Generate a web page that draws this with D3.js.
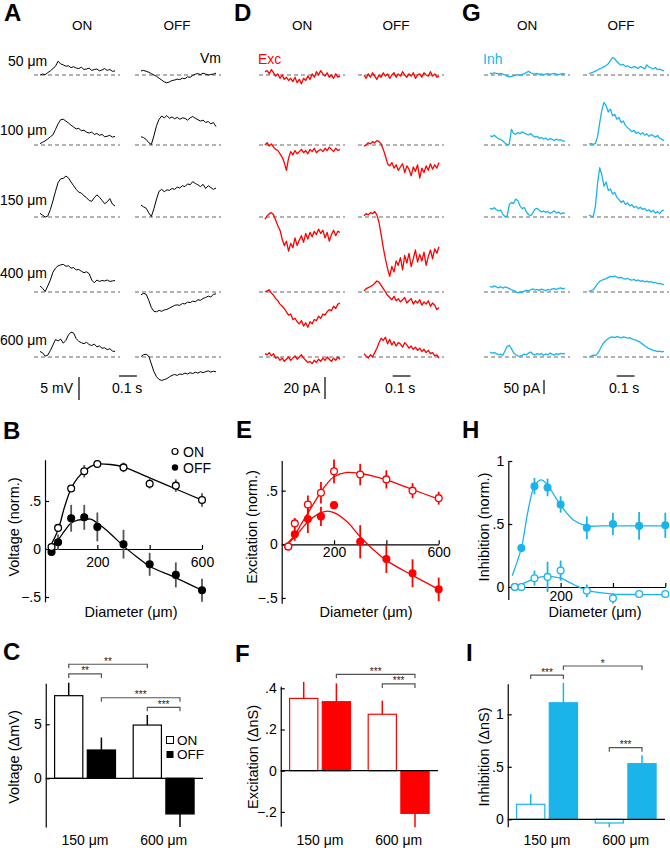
<!DOCTYPE html>
<html><head><meta charset="utf-8">
<script src="https://cdn.jsdelivr.net/npm/d3@7"></script>
<style>body{margin:0;background:#fff}svg{display:block}text{font-family:Arial,"Liberation Sans",sans-serif}</style>
</head><body><svg id="fig" width="670" height="848"></svg>
<script>
// ---------------- DATA ----------------
const rowLabels = ["50 μm","100 μm","150 μm","400 μm","600 μm"];
const conditions = ["ON","OFF"];
const traceDur = 0.42; // s per trace
// Vm traces (mV)
const vmOn = [
 [0,0.2,0.1,0.5,0.9,1.4,1.9,3.0,2.4,2.2,1.9,2.0,1.6,1.8,1.5,1.4,1.7,1.2,1.3,1.5,1.0,1.2,1.3,0.9,1.1,1.4,1.0,1.2,0.8,0.9],
 [0.3,0.6,0.9,1.3,1.8,2.2,3.4,4.6,5.5,5.6,5.2,4.8,4.3,3.9,3.5,3.6,3.1,3.2,2.8,2.6,2.8,2.3,2.5,2.1,2.3,1.8,1.9,2.1,1.7,1.9],
 [0.8,0.4,0.0,0.2,1.6,3.5,5.6,7.5,8.3,8.4,8.9,8.5,7.6,6.8,6.0,5.4,5.2,4.6,4.2,3.6,3.4,4.2,4.8,4.3,3.6,2.9,3.3,4.0,2.8,2.4],
 [1.3,0.8,0.1,1.3,2.6,4.3,5.2,5.7,5.9,6.0,5.6,5.7,5.2,5.3,4.8,4.9,4.5,4.2,4.4,4.0,2.6,2.0,2.6,2.3,2.5,2.4,2.6,2.3,2.4,2.5],
 [1.2,0.9,0.2,0.4,1.4,2.6,3.8,3.5,3.9,3.0,3.6,4.8,5.4,5.2,4.0,3.4,3.1,2.9,3.2,2.7,2.5,2.8,2.2,2.4,1.9,2.0,1.6,1.8,1.3,1.2]
];
const vmOff = [
 [0.9,1.0,0.8,0.6,0.3,0.0,-0.3,-0.7,-1.1,-1.5,-1.7,-1.5,-1.2,-1.1,-0.9,-1.0,-0.7,-0.8,-0.4,-0.5,-0.1,0.2,0.3,0.1,0.4,0.2,0.0,0.1,0.2,0.4],
 [1.8,1.6,1.2,0.5,0.1,2.0,4.2,5.6,6.3,5.9,6.4,5.8,6.1,5.7,6.0,5.6,5.9,5.8,5.4,5.9,6.2,5.8,5.5,5.2,5.4,4.9,5.1,4.6,4.9,4.0],
 [2.6,2.2,1.9,0.9,0.1,1.8,3.9,5.6,6.0,5.5,5.9,5.8,6.2,6.0,6.5,6.3,6.8,6.6,7.2,7.0,7.7,7.3,7.0,6.6,7.1,6.2,6.8,6.4,6.0,6.3],
 [-0.6,-0.3,-0.5,-1.8,-3.4,-4.2,-4.3,-4.0,-4.2,-3.9,-3.8,-3.5,-3.2,-2.9,-2.8,-2.9,-2.5,-2.6,-2.2,-2.3,-2.0,-2.1,-1.7,-1.8,-1.4,-1.2,-0.9,-1.1,-0.5,-0.4],
 [0.1,0.5,0.6,0.2,-1.5,-3.2,-4.3,-4.9,-5.1,-4.9,-4.7,-4.3,-4.0,-3.8,-4.0,-3.7,-3.8,-3.5,-3.7,-3.4,-3.6,-3.3,-3.5,-3.2,-3.4,-3.2,-3.0,-3.3,-3.1,-3.2]
];
// Excitatory currents (pA)
const excOn = [
 [3,4,1,5,2,-1,1,-3,0,-4,-2,-5,-3,-6,-2,-7,-4,-8,-3,-5,-1,-4,1,-2,3,0,4,1,-1,2,-2,0,-3,1,-2,-1],
 [0,2,-1,1,-2,-4,-5,-8,-11,-16,-23,-12,-6,-9,-5,-8,-6,-4,-7,-5,-8,-4,-6,-3,-7,-5,-4,-6,-3,-5,-2,-4,-6,-3,-5,-4],
 [-2,1,3,4,2,-3,-8,-12,-20,-26,-22,-31,-24,-28,-19,-26,-21,-17,-23,-15,-20,-14,-18,-13,-16,-11,-15,-12,-19,-14,-22,-16,-12,-17,-13,-14],
 [0,1,2,-1,-3,-6,-8,-11,-13,-15,-18,-21,-20,-25,-24,-27,-29,-26,-31,-28,-32,-27,-29,-25,-26,-22,-24,-20,-21,-18,-16,-17,-13,-15,-11,-10],
 [3,2,4,1,3,-1,0,-3,-1,-4,-2,0,-3,-1,1,-2,0,2,-1,-3,-5,-4,-6,-3,-5,-2,-4,-1,-3,0,-2,-4,-1,-3,0,-2]
];
const excOff = [
 [0,-3,1,-2,2,-1,-4,0,-2,2,-1,1,-3,0,2,-2,1,-1,3,0,-2,1,-1,2,-3,0,1,-2,2,0,-1,3,-1,1,-2,-1],
 [-1,0,2,1,3,2,4,3,1,-4,-10,-17,-19,-16,-21,-18,-23,-20,-17,-25,-19,-22,-28,-20,-24,-18,-30,-21,-25,-19,-23,-17,-22,-18,-21,-16],
 [1,3,2,4,3,5,2,-5,-16,-28,-38,-47,-54,-45,-50,-40,-44,-37,-48,-35,-42,-33,-45,-38,-30,-41,-34,-40,-32,-44,-36,-30,-38,-29,-33,-27],
 [1,3,4,5,6,8,10,9,6,3,0,-3,-5,-7,-4,-8,-6,-9,-7,-5,-10,-8,-6,-11,-8,-10,-7,-12,-9,-11,-8,-13,-10,-12,-16,-14],
 [3,1,-1,2,0,4,8,13,17,15,18,12,16,11,14,10,13,12,9,13,11,8,10,7,9,6,8,5,7,4,6,3,4,1,2,-1]
];
// Inhibitory currents (pA)
const inhOn = [
 [7,5,8,6,4,6,3,0,-4,-7,-5,-3,-1,1,-2,2,4,9,13,8,5,3,6,2,4,1,3,5,2,4,6,3,1,4,5,3],
 [33,30,35,28,22,20,14,7,1,3,56,42,38,45,40,47,43,39,36,41,33,28,31,24,27,22,25,18,23,20,16,21,17,19,14,15],
 [31,28,33,26,22,25,10,1,3,45,52,48,64,58,40,30,34,18,8,5,15,28,31,24,18,22,16,20,13,17,22,14,18,11,15,13],
 [20,17,22,18,15,19,14,18,16,12,8,5,2,-3,0,-2,3,6,4,8,11,7,9,6,10,8,5,9,7,11,12,9,13,15,11,14],
 [18,14,16,12,8,10,6,22,38,42,30,15,8,4,3,6,10,8,14,18,10,7,12,9,13,6,11,8,14,10,7,12,9,13,11,12]
];
const inhOff = [
 [5,8,10,14,18,22,25,30,34,40,52,62,58,48,40,35,38,30,33,28,25,31,27,24,30,26,22,36,28,25,22,27,19,21,17,15],
 [3,5,2,6,30,80,125,152,140,118,128,104,110,92,98,80,86,70,62,55,48,52,42,46,38,44,35,40,31,37,33,28,34,24,20,15],
 [7,3,1,40,120,176,150,110,125,95,100,82,88,70,62,52,58,45,50,40,44,34,38,30,35,27,31,22,26,18,24,14,20,12,22,25],
 [2,5,8,18,30,38,42,45,48,52,56,54,57,53,50,52,48,46,49,44,42,45,40,43,38,41,36,39,35,37,33,34,30,31,28,26],
 [0,3,7,5,12,25,40,52,60,66,70,72,69,73,71,68,72,70,67,69,65,62,60,56,52,46,40,35,30,27,24,22,19,21,18,20]
];
// Area-summation data (diameter in μm)
const diameters = [25,50,100,150,200,300,400,500,600];
const fitDiam = [15,50,75,100,125,150,175,200,250,300,350,400,500,600];
const vOn = [0.02,0.22,0.63,0.81,0.885,0.85,0.68,0.66,0.51];
const vOnErr = [0.01,0.02,0.02,0.065,0.02,0.05,0.05,0.065,0.07];
const vOff = [-0.03,0.07,0.32,0.33,0.23,0.05,-0.16,-0.27,-0.43];
const vOffErr = [0.02,0.08,0.14,0.13,0.15,0.15,0.12,0.13,0.12];
const vOnFit = [0,0.2,0.44,0.63,0.74,0.81,0.86,0.885,0.88,0.855,0.8,0.74,0.625,0.51];
const vOffFit = [0,0.094,0.19,0.27,0.3,0.31,0.31,0.27,0.16,0.03,-0.08,-0.18,-0.3,-0.43];
const eOn = [-0.02,0.195,0.37,0.48,0.68,0.65,0.605,0.50,0.43];
const eOnErr = [0.01,0.05,0.085,0.1,0.11,0.1,0.085,0.07,0.06];
const eOff = [-0.02,0.093,0.235,0.26,0.365,0.024,-0.137,-0.27,-0.42];
const eOffErr = [0.01,0.06,0.13,0.09,0.01,0.155,0.13,0.13,0.11];
const eOnFit = [-0.01,0.087,0.19,0.29,0.39,0.49,0.57,0.63,0.67,0.66,0.635,0.6,0.51,0.42];
const eOffFit = [-0.02,0.07,0.14,0.21,0.26,0.295,0.31,0.295,0.21,0.07,-0.05,-0.15,-0.29,-0.42];
const hOn = [0.0,0.0,0.07,0.08,0.13,-0.03,-0.09,-0.055,-0.055];
const hOnErr = [0.01,0.01,0.06,0.12,0.08,0.05,0.04,0.02,0.02];
const hOff = [0.0,0.31,0.80,0.79,0.655,0.47,0.50,0.485,0.49];
const hOffErr = [0.01,0.03,0.065,0.07,0.065,0.09,0.09,0.11,0.1];
const hOnFit = [0,0.02,0.045,0.065,0.08,0.085,0.08,0.07,0.02,-0.025,-0.045,-0.056,-0.06,-0.06];
const hOffFit = [0.09,0.31,0.6,0.8,0.85,0.81,0.73,0.65,0.53,0.485,0.485,0.485,0.485,0.485];
// Bar summaries
const groups = ["150 μm","600 μm"];
const cOn = [7.65,4.93], cOnErr = [1.2,0.93], cOff = [2.62,-3.3], cOffErr = [1.15,1.2];
const fOn = [0.351,0.274], fOnErr = [0.08,0.066], fOff = [0.335,-0.207], fOffErr = [0.089,0.068];
const iOn = [0.143,-0.035], iOnErr = [0.097,0.04], iOff = [1.11,0.53], iOffErr = [0.19,0.08];
// significance: [group1, cond1, group2, cond2, level (data units), label]
const cSig = [["150 μm","ON","600 μm","ON",10.56,"**"],["150 μm","ON","150 μm","OFF",9.66,"**"],["150 μm","OFF","600 μm","OFF",7.46,"***"],["600 μm","ON","600 μm","OFF",6.57,"***"]];
const fSig = [["150 μm","OFF","600 μm","OFF",0.468,"***"],["600 μm","ON","600 μm","OFF",0.421,"***"]];
const iSig = [["150 μm","ON","150 μm","OFF",1.374,"***"],["150 μm","OFF","600 μm","OFF",1.46,"*"],["600 μm","ON","600 μm","OFF",0.682,"***"]];

// ---------------- DRAWING ----------------
const RED = "#ff0000", CYAN = "#1ab4ea";
const svg = d3.select("#fig");

function txt(x,y,s,o={}){
  const t = svg.append("text").attr("x",x).attr("y",y).text(s)
    .attr("font-size",o.size||13.5).attr("fill",o.fill||"#000")
    .attr("text-anchor",o.anchor||"start");
  if(o.weight) t.attr("font-weight",o.weight);
  return t;
}
function vtxt(cx,cy,s,size){
  svg.append("text").attr("transform",`translate(${cx},${cy}) rotate(-90)`)
    .attr("text-anchor","middle").attr("dy","0.35em").attr("font-size",size||13.5).text(s);
}
function tickFmt(v){
  if(v===0) return "0";
  if(Number.isInteger(v)) return String(v);
  return d3.format(".1f")(v).replace("0.",".");
}

// Panel letters
[["A",4,21],["D",234,21],["G",462,21],["B",3,439],["E",236,438],["H",462,438],["C",3,660],["F",235,662],["I",466,661]]
  .forEach(([s,x,y])=>txt(x,y,s,{size:24,weight:"bold"}));

// Column headings
[[82,"ON"],[177,"OFF"],[302,"ON"],[396,"OFF"],[527,"ON"],[621,"OFF"]].forEach(([x,s])=>txt(x,30,s,{anchor:"middle",size:13.5}));

// Traces
const rowBase = [75,145,217,292,357];
const traceCols = [
  {data:vmOn, x0:40, ppu:4.6, color:"#000", w:1},
  {data:vmOff, x0:141, ppu:4.6, color:"#000", w:1},
  {data:excOn, x0:265, ppu:1.1, color:RED, w:1.3},
  {data:excOff, x0:364, ppu:1.1, color:RED, w:1.3},
  {data:inhOn, x0:490, ppu:0.28, color:CYAN, w:1.3},
  {data:inhOff, x0:589, ppu:0.28, color:CYAN, w:1.3}
];
const tScale = x0 => d3.scaleLinear().domain([0,traceDur]).range([x0,x0+75]);
traceCols.forEach(c=>{
  rowBase.forEach(b=>{
    svg.append("line").attr("x1",c.x0-6).attr("x2",c.x0+80).attr("y1",b).attr("y2",b)
      .attr("stroke","#666").attr("stroke-width",1).attr("stroke-dasharray","4,3");
  });
});
traceCols.forEach(c=>{
  const xs = tScale(c.x0);
  c.data.forEach((vals,r)=>{
    const ys = d3.scaleLinear().domain([0,1]).range([rowBase[r],rowBase[r]-c.ppu]);
    const line = d3.line().x((d,i)=>xs(i*traceDur/(vals.length-1))).y(d=>ys(d));
    svg.append("path").attr("d",line(vals)).attr("fill","none")
      .attr("stroke",c.color).attr("stroke-width",c.w).attr("stroke-linejoin","round");
  });
});
// Row labels
[[8,66],[0,135],[0,205],[0,278],[0,345]].forEach(([x,y],i)=>txt(x,y,rowLabels[i],{size:14}));
txt(221,63,"Vm",{anchor:"end",size:14});
txt(258,64,"Exc",{fill:RED,size:14});
txt(483,64,"Inh",{fill:CYAN,size:14});
// Scale bars
function vbar(x,yb,len,label,lx){
  svg.append("line").attr("x1",x).attr("x2",x).attr("y1",yb).attr("y2",yb-len).attr("stroke","#000").attr("stroke-width",1.2);
  txt(lx,393,label,{anchor:"end",size:14});
}
vbar(79,400,d3.scaleLinear().domain([0,1]).range([0,4.6])(5),"5 mV",73);
vbar(325,399,d3.scaleLinear().domain([0,1]).range([0,1.1])(20),"20 pA",320);
vbar(544,394,d3.scaleLinear().domain([0,1]).range([0,0.28])(50),"50 pA",540);
function hbar(x0,lx){
  const s = tScale(x0);
  svg.append("line").attr("x1",x0).attr("x2",x0+s(0.1)-s(0)).attr("y1",376).attr("y2",376).attr("stroke","#000").attr("stroke-width",1.2);
  txt(lx,393,"0.1 s",{size:14});
}
hbar(119,112); hbar(392.7,385); hbar(616.7,609);

// Scatter panels
function scatterPanel(o){
  const x = d3.scaleLinear().domain([0,600]).range([o.x0,o.x0+157]);
  const y = d3.scaleLinear().domain([o.lo,o.hi]).range([o.y0-o.lo*o.ppu,o.y0-o.hi*o.ppu]);
  const g = svg.append("g");
  const ya = g.append("g").attr("transform",`translate(${o.x0},0)`)
    .call(d3.axisLeft(y).tickValues(o.ticks).tickFormat(tickFmt).tickSizeInner(-4).tickSizeOuter(0).tickPadding(4));
  const xa = g.append("g").attr("transform",`translate(0,${y(0)})`)
    .call(d3.axisBottom(x).tickValues([200,400,600]).tickFormat(d=>o.xlabels.includes(d)?d:"").tickSizeInner(-4).tickSizeOuter(0).tickPadding(o.xpad));
  [ya,xa].forEach(a=>{a.selectAll("path,line").attr("stroke","#000").attr("stroke-width",1.2);
    a.selectAll("text").attr("font-size",14).attr("fill","#000").attr("font-family",'Arial,"Liberation Sans",sans-serif');});
  const line = d3.line().x((d,i)=>x(fitDiam[i])).y(d=>y(d)).curve(d3.curveCatmullRom.alpha(0.5));
  [o.fitOn,o.fitOff].forEach(f=>g.append("path").attr("d",line(f)).attr("fill","none").attr("stroke",o.color).attr("stroke-width",1.3));
  const series = [[o.off,o.offErr,true],[o.on,o.onErr,false]];
  series.forEach(([v,e])=>{
    g.selectAll(null).data(v).enter().append("line")
      .attr("x1",(d,i)=>x(diameters[i])).attr("x2",(d,i)=>x(diameters[i]))
      .attr("y1",(d,i)=>y(d-e[i])).attr("y2",(d,i)=>y(d+e[i]))
      .attr("stroke",o.errColor).attr("stroke-width",1.8);
  });
  series.forEach(([v,e,filled])=>{
    g.selectAll(null).data(v).enter().append("circle")
      .attr("cx",(d,i)=>x(diameters[i])).attr("cy",d=>y(d)).attr("r",3.4)
      .attr("fill",filled?o.color:"#fff").attr("stroke",o.color).attr("stroke-width",1.3);
  });
  vtxt(o.ytx,527,o.ytitle,14.5);
  txt(o.xtx,617,"Diameter (μm)",{anchor:"middle",size:14.5});
}
scatterPanel({x0:45,y0:549,ppu:96,lo:-0.55,hi:0.93,ticks:[-0.5,0,0.5],color:"#000",errColor:"#555",
  on:vOn,onErr:vOnErr,off:vOff,offErr:vOffErr,fitOn:vOnFit,fitOff:vOffFit,xlabels:[200,600],xpad:8,
  ytitle:"Voltage (norm.)",ytx:14,xtx:131});
scatterPanel({x0:281.7,y0:544.3,ppu:107.3,lo:-0.55,hi:0.78,ticks:[-0.5,0,0.5],color:RED,errColor:RED,
  on:eOn,onErr:eOnErr,off:eOff,offErr:eOffErr,fitOn:eOnFit,fitOff:eOffFit,xlabels:[200,600],xpad:3,
  ytitle:"Excitation (norm.)",ytx:252,xtx:366});
scatterPanel({x0:508.3,y0:587,ppu:126,lo:-0.1,hi:1.0,ticks:[0,0.5,1],color:CYAN,errColor:CYAN,
  on:hOn,onErr:hOnErr,off:hOff,offErr:hOffErr,fitOn:hOnFit,fitOff:hOffFit,xlabels:[200],xpad:4,
  ytitle:"Inhibition (norm.)",ytx:484,xtx:595});
// legend B
svg.append("circle").attr("cx",175).attr("cy",451.5).attr("r",3).attr("fill","#fff").attr("stroke","#000").attr("stroke-width",1.2);
svg.append("circle").attr("cx",175).attr("cy",467.5).attr("r",3.2).attr("fill","#000");
txt(183,456.5,"ON",{size:14}); txt(183,472.5,"OFF",{size:14});

// Bar panels
function barPanel(o){
  const xg = d3.scaleBand().domain(groups).range([o.x0,o.x0+157.2]).paddingInner(0.21).paddingOuter(0.105);
  const xc = d3.scaleBand().domain(conditions).range([0,xg.bandwidth()]).paddingInner(0.1);
  const y = d3.scaleLinear().domain([o.lo,o.hi]).range([o.y0-o.lo*o.ppu,o.y0-o.hi*o.ppu]);
  const g = svg.append("g");
  const vals = {ON:[o.on,o.onErr],OFF:[o.off,o.offErr]};
  conditions.forEach(c=>{
    const [v,e] = vals[c];
    groups.forEach((gr,i)=>{
      const bx = xg(gr)+xc(c);
      const cx = bx+xc.bandwidth()/2;
      const top = v[i]>=0 ? v[i] : 0;
      g.append("line").attr("x1",cx).attr("x2",cx).attr("y1",y(v[i])).attr("y2",y(v[i]+Math.sign(v[i])*e[i]))
        .attr("stroke",o.color).attr("stroke-width",1.5);
      g.append("rect").attr("x",bx+0.6).attr("width",xc.bandwidth()-1.2)
        .attr("y",y(top)).attr("height",Math.abs(y(v[i])-y(0)))
        .attr("fill",c==="ON"?"#fff":o.color).attr("stroke",o.color).attr("stroke-width",1.2);
    });
  });
  const ya = g.append("g").attr("transform",`translate(${o.x0},0)`)
    .call(d3.axisLeft(y).tickValues(o.ticks).tickFormat(tickFmt).tickSizeInner(-4).tickSizeOuter(0).tickPadding(4));
  ya.selectAll("path,line").attr("stroke","#000").attr("stroke-width",1.2);
  ya.selectAll("text").attr("font-size",14).attr("fill","#000").attr("font-family",'Arial,"Liberation Sans",sans-serif');
  g.append("line").attr("x1",o.x0).attr("x2",o.x0+157.2).attr("y1",y(0)).attr("y2",y(0)).attr("stroke","#000").attr("stroke-width",1.2);
  groups.forEach(gr=>txt(xg(gr)+xg.bandwidth()/2,845,gr,{anchor:"middle",size:14}));
  o.sig.forEach(([g1,c1,g2,c2,lev,lab])=>{
    const xa = xg(g1)+xc(c1)+xc.bandwidth()/2, xb = xg(g2)+xc(c2)+xc.bandwidth()/2, yy = y(lev);
    g.append("path").attr("d",`M${xa},${yy+4}V${yy}H${xb}V${yy+4}`).attr("fill","none").attr("stroke","#555").attr("stroke-width",1.2);
    txt((xa+xb)/2,yy+0.5,lab,{anchor:"middle",size:10,fill:"#222"});
  });
  vtxt(o.ytx,757,o.ytitle,14.5);
}
barPanel({x0:45.75,y0:778.3,ppu:10.8,lo:-4.5,hi:8.8,ticks:[0,5],color:"#000",on:cOn,onErr:cOnErr,off:cOff,offErr:cOffErr,sig:cSig,ytitle:"Voltage (ΔmV)",ytx:14});
barPanel({x0:280.75,y0:770.7,ppu:206,lo:-0.27,hi:0.41,ticks:[-0.2,0,0.2,0.4],color:RED,on:fOn,onErr:fOnErr,off:fOff,offErr:fOffErr,sig:fSig,ytitle:"Excitation (ΔnS)",ytx:253});
barPanel({x0:507.75,y0:819.3,ppu:105,lo:-0.07,hi:1.29,ticks:[0,0.5,1],color:CYAN,on:iOn,onErr:iOnErr,off:iOff,offErr:iOffErr,sig:iSig,ytitle:"Inhibition (ΔnS)",ytx:484});
// legend C
svg.append("rect").attr("x",166.5).attr("y",736.5).attr("width",7).attr("height",7).attr("fill","#fff").attr("stroke","#000").attr("stroke-width",1);
svg.append("rect").attr("x",166.5).attr("y",751).attr("width",7).attr("height",7).attr("fill","#000");
txt(177,744.5,"ON",{size:13.5}); txt(177,759,"OFF",{size:13.5});
</script></body></html>
